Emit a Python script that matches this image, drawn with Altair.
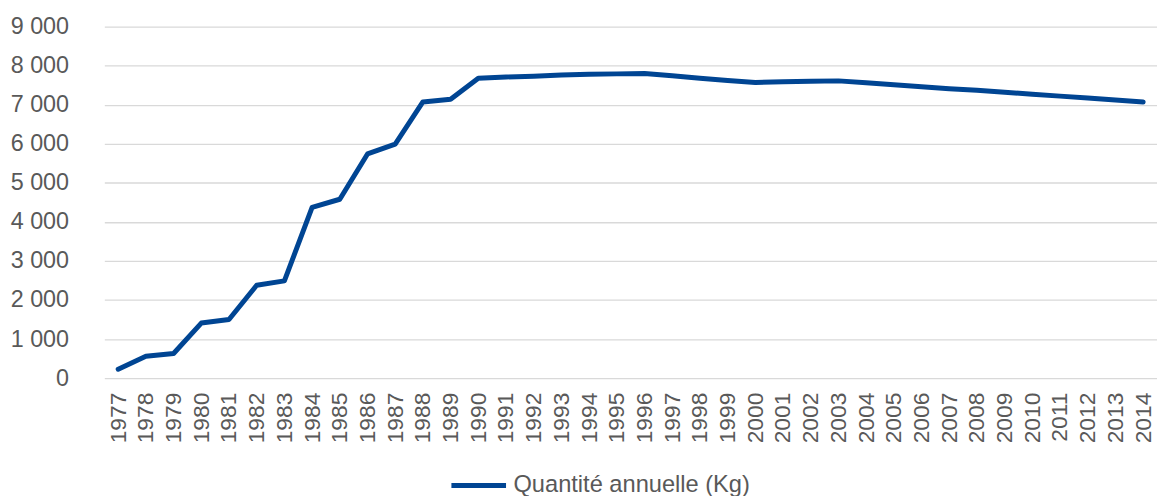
import altair as alt
import pandas as pd

years = list(range(1977, 2015))
quantities = [230, 560, 630, 1410, 1500, 2380, 2490, 4370, 4580, 5740, 5990,
              7070, 7140, 7680, 7710, 7730, 7760, 7780, 7790, 7800,
              7740, 7680, 7620, 7570, 7590, 7600, 7610,
              7560, 7510, 7460, 7410, 7370, 7320, 7270, 7220, 7170, 7120, 7070]
series_name = "Quantité annuelle (Kg)"
y_ticks = [0, 1000, 2000, 3000, 4000, 5000, 6000, 7000, 8000, 9000]

df = pd.DataFrame({"year": [str(y) for y in years], "value": quantities,
                   "series": [series_name] * len(years)})

FONT = "Liberation Sans"
GREY = "#595959"
LINE = "#004593"

chart = alt.Chart(df).mark_line(strokeWidth=5, strokeCap="round", strokeJoin="round").encode(
    x=alt.X("year:O", title=None,
            scale=alt.Scale(type="point", paddingOuter=0.5),
            axis=alt.Axis(labelAngle=270, labelFont=FONT, labelFontSize=23, labelColor=GREY,
                          ticks=False, domain=False, labelPadding=14, grid=False)),
    y=alt.Y("value:Q", title=None,
            scale=alt.Scale(domain=[0, 9000], nice=False, zero=True),
            axis=alt.Axis(values=y_ticks, labelFont=FONT, labelFontSize=23.5, labelColor=GREY,
                          ticks=False, domain=False, labelPadding=36,
                          gridColor="#d9d9d9", gridWidth=1.3,
                          labelExpr="replace(format(datum.value, ','), ',', ' ')")),
    color=alt.Color("series:N", scale=alt.Scale(range=[LINE]),
                    legend=alt.Legend(title=None, orient="none", legendX=347, legendY=432,
                                      symbolType="stroke", symbolSize=3025, symbolStrokeWidth=5,
                                      symbolStrokeColor=LINE,
                                      labelFont=FONT, labelFontSize=23.8, labelColor=GREY,
                                      labelLimit=500, labelOffset=5, padding=0))
).properties(
    width=1060, height=354,
    autosize=alt.AutoSizeParams(type="none"),
    padding={"left": 97, "top": 17, "right": 0, "bottom": 125}
).configure_view(stroke=None)

chart.save("out.html", embed_options={"renderer": "svg", "actions": False})
